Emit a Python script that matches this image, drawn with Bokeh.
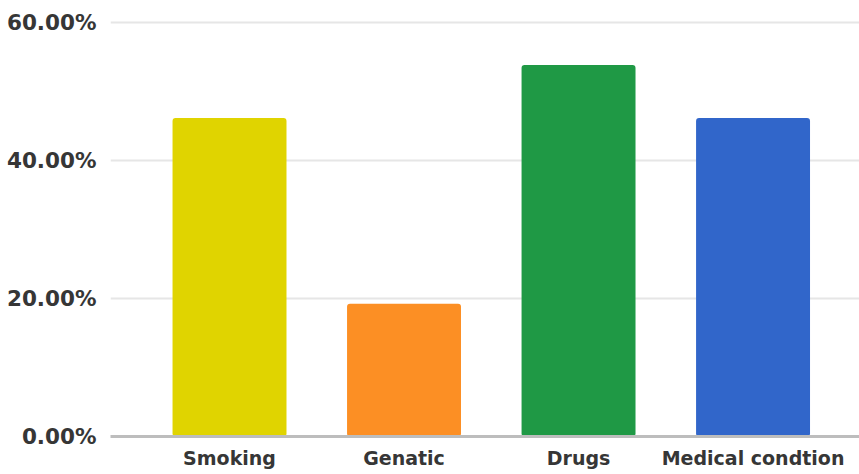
from bokeh.plotting import figure
from bokeh.models import Range1d, FixedTicker, NumeralTickFormatter
from bokeh.embed import file_html
from bokeh.resources import INLINE

categories = ["Smoking", "Genatic", "Drugs", "Medical condtion"]
values = [0.4615, 0.1923, 0.5385, 0.4615]
colors = ["#e0d400", "#fc8f24", "#1f9945", "#3166ca"]
y_ticks = [0.0, 0.2, 0.4, 0.6]

xs = list(range(len(categories)))

p = figure(width=859, height=474, output_backend="svg", toolbar_location=None,
           x_range=Range1d(-0.682, 3.61), y_range=Range1d(0, 0.603),
           min_border_left=110, min_border_right=0, min_border_top=20,
           min_border_bottom=38)
p.outline_line_color = None
p.background_fill_color = "white"
p.border_fill_color = "white"

p.vbar(x=xs, top=values, width=0.653, bottom=0, fill_color=colors,
       line_color=None, border_radius=3)

p.xgrid.grid_line_color = None
p.ygrid.grid_line_color = "#e6e6e6"
p.ygrid.grid_line_width = 2
p.ygrid.ticker = FixedTicker(ticks=y_ticks)

p.yaxis.ticker = FixedTicker(ticks=y_ticks)
p.yaxis.formatter = NumeralTickFormatter(format="0.00%")
p.yaxis.axis_line_color = None
p.yaxis.major_tick_line_color = None
p.yaxis.minor_tick_line_color = None
p.yaxis.major_label_standoff = 8
p.yaxis.major_label_text_font = "DejaVu Sans"
p.yaxis.major_label_text_font_style = "bold"
p.yaxis.major_label_text_font_size = "21.5px"
p.yaxis.major_label_text_color = "#363636"

p.xaxis.ticker = FixedTicker(ticks=xs)
p.xaxis.major_label_overrides = {i: c for i, c in zip(xs, categories)}
p.xaxis.axis_line_color = "#bdbdbd"
p.xaxis.axis_line_width = 3
p.xaxis.major_tick_line_color = None
p.xaxis.minor_tick_line_color = None
p.xaxis.major_label_standoff = 4
p.xaxis.major_label_text_font = "DejaVu Sans"
p.xaxis.major_label_text_font_style = "bold"
p.xaxis.major_label_text_font_size = "19px"
p.xaxis.major_label_text_color = "#363636"

open("out.html", "w").write(file_html(p, INLINE))
